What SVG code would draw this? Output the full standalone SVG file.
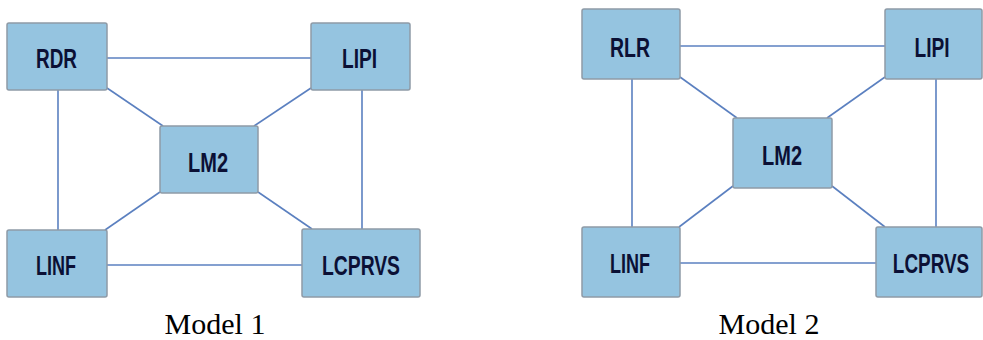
<svg xmlns="http://www.w3.org/2000/svg" width="983" height="340" viewBox="0 0 983 340">
<style>
.box{fill:#95c4e0;stroke:#8e9aa6;stroke-width:1.5}
.lbl{font-family:"Liberation Sans",Arial,sans-serif;font-weight:bold;font-size:27px;fill:#0b1035;text-anchor:middle}
.cap{font-family:"Liberation Serif","Times New Roman",serif;font-size:30px;fill:#000;text-anchor:middle}
.edge{stroke:#5b80c0;stroke-width:1.6;fill:none}
</style>
<rect width="983" height="340" fill="#fff"/>
<g id="connectors">
<line class="edge" x1="107" y1="58" x2="311" y2="58"/>
<line class="edge" x1="58" y1="90" x2="58" y2="230"/>
<line class="edge" x1="362" y1="90" x2="362" y2="229"/>
<line class="edge" x1="107" y1="265" x2="302" y2="265"/>
<line class="edge" x1="107" y1="88" x2="163" y2="126"/>
<line class="edge" x1="311" y1="88" x2="254" y2="126"/>
<line class="edge" x1="160" y1="192" x2="105" y2="230"/>
<line class="edge" x1="258" y1="192" x2="312" y2="229"/>
<line class="edge" x1="680" y1="46" x2="885" y2="46"/>
<line class="edge" x1="632" y1="79" x2="632" y2="227"/>
<line class="edge" x1="936" y1="79" x2="936" y2="227"/>
<line class="edge" x1="680" y1="263" x2="876" y2="263"/>
<line class="edge" x1="680" y1="77" x2="737" y2="118"/>
<line class="edge" x1="885" y1="77" x2="827" y2="118"/>
<line class="edge" x1="733" y1="186" x2="679" y2="227"/>
<line class="edge" x1="832" y1="186" x2="885" y2="227"/>
</g>
<g id="m1-rdr"><rect class="box" x="7" y="23" width="100" height="67" rx="2"/><text class="lbl" x="56.5" y="68" textLength="41" lengthAdjust="spacingAndGlyphs">RDR</text></g>
<g id="m1-lipi"><rect class="box" x="311" y="23" width="99" height="67" rx="2"/><text class="lbl" x="359.5" y="68" textLength="35" lengthAdjust="spacingAndGlyphs">LIPI</text></g>
<g id="m1-lm2"><rect class="box" x="160" y="126" width="98" height="67" rx="2"/><text class="lbl" x="208" y="172" textLength="40" lengthAdjust="spacingAndGlyphs">LM2</text></g>
<g id="m1-linf"><rect class="box" x="7" y="230" width="100" height="67" rx="2"/><text class="lbl" x="56" y="275" textLength="40" lengthAdjust="spacingAndGlyphs">LINF</text></g>
<g id="m1-lcprvs"><rect class="box" x="302" y="229" width="118" height="68" rx="2"/><text class="lbl" x="361" y="275" textLength="78" lengthAdjust="spacingAndGlyphs">LCPRVS</text></g>
<text class="cap" x="215" y="334">Model 1</text>
<g id="m2-rlr"><rect class="box" x="582" y="9" width="98" height="70" rx="2"/><text class="lbl" x="630" y="57" textLength="40" lengthAdjust="spacingAndGlyphs">RLR</text></g>
<g id="m2-lipi"><rect class="box" x="885" y="9" width="97" height="70" rx="2"/><text class="lbl" x="932" y="57" textLength="35" lengthAdjust="spacingAndGlyphs">LIPI</text></g>
<g id="m2-lm2"><rect class="box" x="733" y="118" width="99" height="70" rx="2"/><text class="lbl" x="782" y="165" textLength="40" lengthAdjust="spacingAndGlyphs">LM2</text></g>
<g id="m2-linf"><rect class="box" x="582" y="227" width="98" height="70" rx="2"/><text class="lbl" x="630" y="273" textLength="40" lengthAdjust="spacingAndGlyphs">LINF</text></g>
<g id="m2-lcprvs"><rect class="box" x="876" y="227" width="106" height="70" rx="2"/><text class="lbl" transform="translate(931 273) scale(0.7 1)" x="0" y="0">LCPRVS</text></g>
<text class="cap" x="769" y="334">Model 2</text>
</svg>
